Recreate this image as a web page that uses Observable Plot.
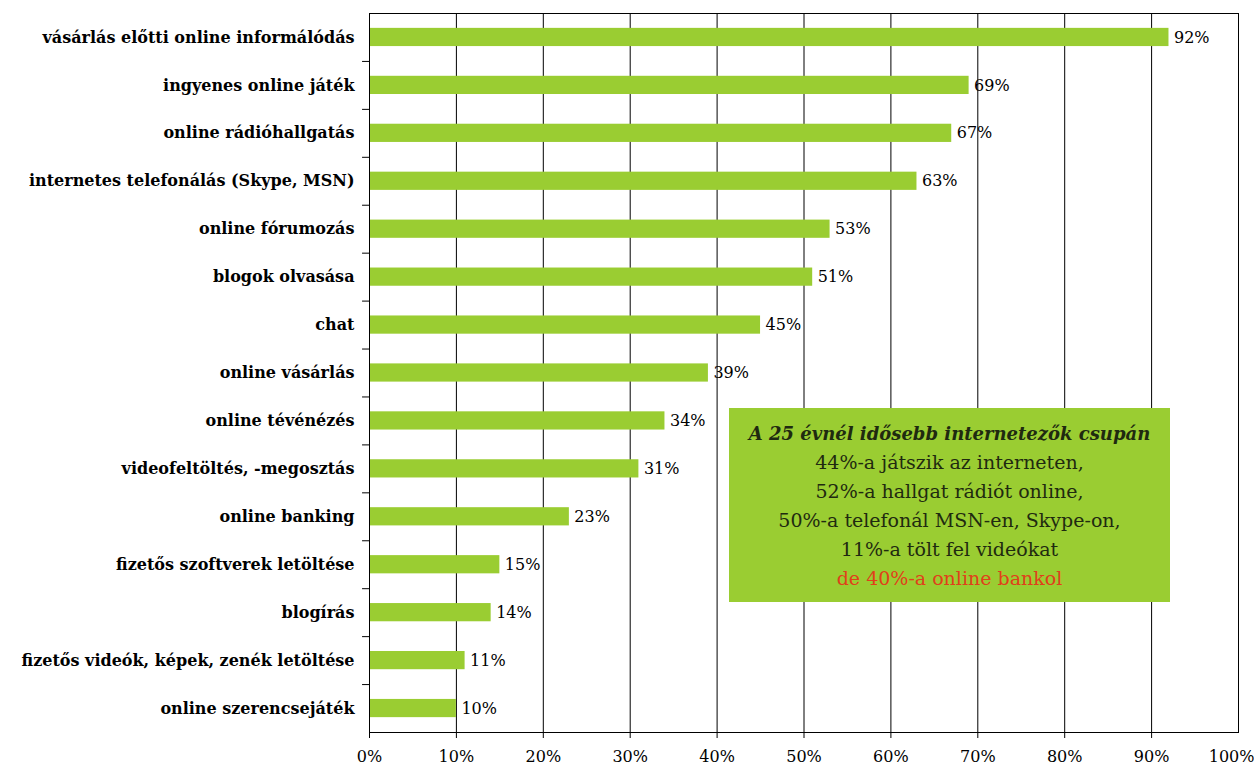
<!DOCTYPE html>
<html><head><meta charset="utf-8">
<script src="https://cdn.jsdelivr.net/npm/d3@7"></script>
<script src="https://cdn.jsdelivr.net/npm/@observablehq/plot@0.6"></script>
<style>
body{margin:0;background:#fff;}
#wrap{position:relative;width:1254px;height:769px;}
#note{position:absolute;left:729px;top:408px;width:441px;height:194px;background:#9ACD32;
font-family:"DejaVu Serif",serif;font-size:19px;color:#1f2a10;text-align:center;line-height:29px;padding-top:11px;box-sizing:border-box;}
#note .t{font-weight:bold;font-style:italic;font-size:18px;}
#note .r{color:#e0401a;}
</style></head><body>
<div id="wrap"></div>
<script>
const categories = ["vásárlás előtti online informálódás","ingyenes online játék","online rádióhallgatás","internetes telefonálás (Skype, MSN)","online fórumozás","blogok olvasása","chat","online vásárlás","online tévénézés","videofeltöltés, -megosztás","online banking","fizetős szoftverek letöltése","blogírás","fizetős videók, képek, zenék letöltése","online szerencsejáték"];
const values = [92,69,67,63,53,51,45,39,34,31,23,15,14,11,10];
const xTicks = [0,10,20,30,40,50,60,70,80,90,100];
const noteLines = ["A 25 évnél idősebb internetezők csupán","44%-a játszik az interneten,","52%-a hallgat  rádiót online,","50%-a telefonál  MSN-en, Skype-on,","11%-a tölt fel videókat","de 40%-a online bankol"];

const data = categories.map((c,i)=>({cat:c, v:values[i]}));
const W=1254,H=769,mt=13,mb=37,ml=369,mr=16;
const band=(H-mt-mb)/categories.length;
const fmt=d=>d+"%";

const chart = Plot.plot({
  width:W,height:H,marginTop:mt,marginBottom:mb,marginLeft:ml,marginRight:mr,
  style:{fontFamily:"DejaVu Serif, serif",fontSize:"15px",color:"#000",background:"transparent"},
  x:{domain:[0,100],label:null},
  y:{domain:categories,paddingInner:0.62,paddingOuter:0.31,round:false,label:null},
  marks:[
    Plot.gridX(xTicks,{stroke:"#000",strokeOpacity:1,strokeWidth:1}),
    Plot.barX(data,{y:"cat",x:"v",fill:"#9ACD32"}),
    Plot.text(data,{y:"cat",x:"v",text:d=>fmt(d.v),textAnchor:"start",dx:5,fontSize:16,fill:"#000"}),
    Plot.ruleY(categories.slice(1),{y:d=>d,dy:-band/2,x1:-0.8,x2:0,stroke:"#000"}),
    Plot.frame({stroke:"#000"}),
    Plot.axisX(xTicks.slice(0,-1),{tickFormat:fmt,tickSize:6,tickPadding:12,fontSize:16,stroke:"#000",label:null}),
    Plot.axisX(xTicks.slice(-1),{tickFormat:fmt,tickSize:6,tickPadding:12,fontSize:16,stroke:"#000",textAnchor:"end",dx:16,label:null}),
    Plot.axisY({tickSize:0,tickPadding:15,fontSize:16,fontWeight:"bold",label:null})
  ]
});
document.getElementById("wrap").appendChild(chart);
const note=document.createElement("div");note.id="note";
note.innerHTML=noteLines.map((l,i)=>`<div class="${i==0?'t':(i==noteLines.length-1?'r':'')}">${l}</div>`).join("");
document.getElementById("wrap").appendChild(note);
</script></body></html>
